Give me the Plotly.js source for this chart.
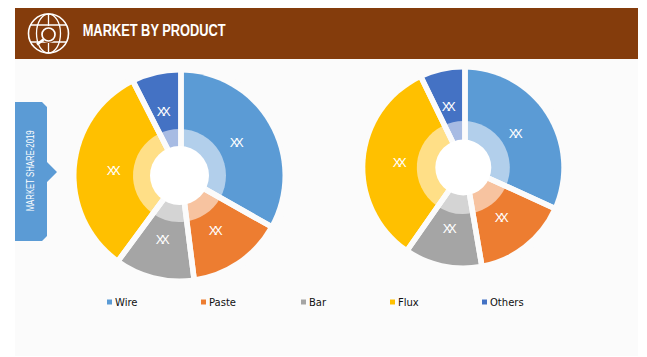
<!DOCTYPE html>
<html><head><meta charset="utf-8">
<script src="https://cdn.plot.ly/plotly-3.0.1.min.js"></script>
<style>html,body{margin:0;padding:0;background:#fff;overflow:hidden}#c{width:647px;height:357px}</style>
</head><body><div id="c"></div>
<script>
const categories = ['Wire','Paste','Bar','Flux','Others'];
const leftValues = [33.2,14.8,12.1,32.4,7.5];
const rightValues = [31.8,15.5,12.4,33.1,7.2];
const sliceLabels = ['XX','XX','XX','XX','XX'];
const solidColors = ['#5B9BD5','#ED7D31','#A5A5A5','#FFC000','#4472C4'];
const lightColors = ['#B2CFEB','#F7C3A0','#D4D4D4','#FFDF87','#A7BBE3'];
const clearColors = categories.map(()=> 'rgba(0,0,0,0)');
const legendSquareX = [109.5,203.5,303.5,392.5,484.5];
const W=647,H=357,BG='#FBFBFB',BROWN='#843C0C',BLUE='#5B9BD5';
const px=x=>x/W, py=y=>1-y/H;
function dom(cx,cy,r){return {x:[px(cx-r),px(cx+r)],y:[py(cy+r),py(cy-r)]};}
function pie(values,cx,cy,r,o){
  return Object.assign({type:'pie',values:values,labels:categories,sort:false,direction:'clockwise',rotation:0,
    domain:dom(cx,cy,r),hole:0,marker:{colors:clearColors,line:{color:BG,width:0}},
    textinfo:'none',textposition:'none',hoverinfo:'label+value',showlegend:false},o||{});
}
function donut(values,cx,cy,r,rLight,rHole,gapX){
  return [
    pie(values,cx,cy,r,{marker:{colors:solidColors,line:{width:0}}}),
    pie(values,cx,cy,rLight,{marker:{colors:lightColors,line:{width:0}}}),
    pie(values,gapX,cy,r+5,{marker:{colors:clearColors,line:{color:BG,width:5.5}}}),
    pie([1],cx,cy,rHole,{labels:['centre'],marker:{colors:['#FFFFFF'],line:{width:0}},hoverinfo:'skip'})
  ];
}
const traces=[...donut(leftValues,179.5,175.5,103,46.5,29.5,181),...donut(rightValues,463.3,167.5,98,46.5,28,465)];
function P(d,extra){return Object.assign({type:'path',xref:'paper',yref:'paper',path:d,line:{width:0}},extra||{});}
function path(pts){return 'M'+pts.map(p=>px(p[0])+','+py(p[1])).join('L')+'Z';}
function lineS(x0,y0,x1,y1,w,c){return {type:'line',xref:'paper',yref:'paper',x0:px(x0),y0:py(y0),x1:px(x1),y1:py(y1),line:{color:c||'#fff',width:w}};}
function circ(cx,cy,rx,ry,fill,w){return {type:'circle',xref:'paper',yref:'paper',x0:px(cx-rx),x1:px(cx+rx),y0:py(cy+ry),y1:py(cy-ry),fillcolor:fill,line:{color:'#fff',width:w}};}
const shapes=[
  {type:'rect',xref:'paper',yref:'paper',x0:px(15),x1:px(638),y0:py(356),y1:py(59),fillcolor:BG,line:{width:0},layer:'below'},
  {type:'rect',xref:'paper',yref:'paper',x0:px(15),x1:px(638),y0:py(59),y1:py(8),fillcolor:BROWN,line:{width:0},layer:'below'},
  P(path([[15,102],[42,102],[47,107],[47,162],[57,172],[47,182],[47,236],[42,241],[15,241]]),{fillcolor:BLUE}),
  circ(48.5,33.5,20,19.5,'rgba(0,0,0,0)',1.6),
  circ(48.5,33.5,12,19.5,'rgba(0,0,0,0)',1.3),
  lineS(48.5,14,48.5,53,1.3),
  lineS(30,25,67,25,1.3),
  lineS(30,42,67,42,1.3),
  {type:'circle',xref:'paper',yref:'paper',x0:px(40),x1:px(57),y0:py(43),y1:py(26),fillcolor:BROWN,line:{width:0}},
  circ(48.5,34.5,6.5,6.5,BROWN,1.7),
  lineS(43.5,39.5,37,44.5,2.6)
];
categories.forEach((c,i)=>{
  const x=legendSquareX[i];
  shapes.push({type:'rect',xref:'paper',yref:'paper',x0:px(x-2.5),x1:px(x+2.5),y0:py(304.5),y1:py(299.5),fillcolor:solidColors[i],line:{width:0}});
});
const annotations=[
  {text:'MARKET BY PRODUCT',x:px(154.5),y:py(30),xref:'paper',yref:'paper',xanchor:'center',yanchor:'middle',showarrow:false,
   font:{family:'Liberation Sans',size:16,weight:700,color:'#fff'}},
  {text:'MARKET SHARE-2019',x:px(30.5),y:py(170.5),xref:'paper',yref:'paper',xanchor:'center',yanchor:'middle',showarrow:false,textangle:-90,
   font:{family:'Liberation Sans',size:10,color:'#fff'}}
];
categories.forEach((c,i)=>{
  annotations.push({text:c,x:px(legendSquareX[i]+3.5),y:py(302),xref:'paper',yref:'paper',xanchor:'left',yanchor:'middle',showarrow:false,
    font:{family:'DejaVu Sans',size:10,color:'#111'}});
});
function sliceText(values,cx,cy,r){
  const sum=values.reduce((a,b)=>a+b,0);let acc=0;
  values.forEach((v,i)=>{
    const a=(acc+v/2)/sum*2*Math.PI;acc+=v;
    annotations.push({text:sliceLabels[i],x:px(cx+r*Math.sin(a)),y:py(cy-r*Math.cos(a)),xref:'paper',yref:'paper',xanchor:'center',yanchor:'middle',showarrow:false,
      font:{family:'Liberation Sans',size:13,color:'#fff'}});
  });
}
sliceText(leftValues,179.5,175.5,66);
sliceText(rightValues,463.3,167.5,63);
const textFit={'MARKET BY PRODUCT':[143,'spacingAndGlyphs'],'MARKET SHARE-2019':[81,'spacingAndGlyphs'],'XX':[14,'spacing']};
Plotly.newPlot('c',traces,{width:W,height:H,margin:{l:0,r:0,t:0,b:0,pad:0},paper_bgcolor:'#fff',plot_bgcolor:'#fff',
  showlegend:false,shapes:shapes,annotations:annotations},{displayModeBar:false,staticPlot:true}).then(()=>{
  document.querySelectorAll('.annotation-text').forEach(t=>{
    const f=textFit[t.textContent];
    if(f){t.setAttribute('textLength',f[0]);t.setAttribute('lengthAdjust',f[1]);}
  });
});
</script></body></html>
